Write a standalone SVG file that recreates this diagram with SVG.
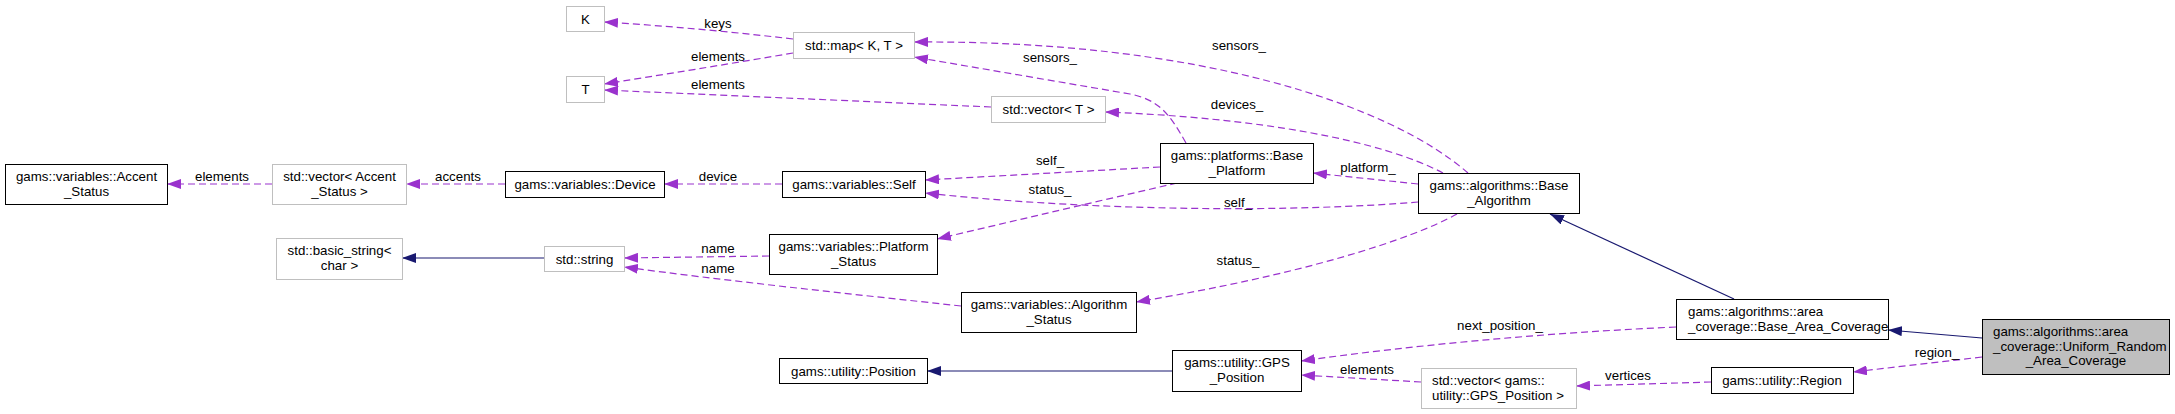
<svg xmlns="http://www.w3.org/2000/svg" width="2175" height="414" viewBox="0 0 2175 414">
<defs>
<style>
text{font-family:"Liberation Sans",Arial,sans-serif;font-size:13.3px;fill:#000}
.n rect{fill:#fff;stroke:#000;stroke-width:1}
.u rect{fill:#fff;stroke:#bfbfbf;stroke-width:1}
.g rect{fill:#bfbfbf;stroke:#000;stroke-width:1}
.c{text-anchor:middle}
.e{fill:none;stroke:#9a32cd;stroke-width:1.2;stroke-dasharray:7,4;marker-end:url(#ap)}
.i{fill:none;stroke:#191970;stroke-width:1.2;marker-end:url(#ab)}
.l{text-anchor:middle}
</style>
<marker id="ap" viewBox="0 0 14 10" refX="14" refY="5" markerWidth="14" markerHeight="10" markerUnits="userSpaceOnUse" orient="auto">
<path d="M0,0 L14,5 L0,10 z" fill="#9a32cd"/>
</marker>
<marker id="ab" viewBox="0 0 14 10" refX="14" refY="5" markerWidth="14" markerHeight="10" markerUnits="userSpaceOnUse" orient="auto">
<path d="M0,0 L14,5 L0,10 z" fill="#191970"/>
</marker>
</defs>
<rect width="2175" height="414" fill="#fff"/>
<g id="edges">
<path class="e" d="M793,39 Q700,28 604,22"/>
<path class="e" d="M793,53 C740,62 680,72 604,84"/>
<path class="e" d="M991,107 L604,90"/>
<path class="e" d="M1468,173 C1390,105 1200,40 914,42"/>
<path class="e" d="M1186,143 C1170,115 1160,100 1130,94 L914,57"/>
<path class="e" d="M1443,173 C1380,140 1260,118 1105,112"/>
<path class="e" d="M1418,184 L1313,173"/>
<path class="e" d="M1160,167 L925,180"/>
<path class="e" d="M1418,202 C1300,212 1100,212 925,193"/>
<path class="e" d="M1177,183 Q1060,210 937,239"/>
<path class="e" d="M1457,214 C1410,240 1300,275 1136,302"/>
<path class="e" d="M782,184 L664,184"/>
<path class="e" d="M505,184 L406,184"/>
<path class="e" d="M272,184 L167,184"/>
<path class="e" d="M769,256 L624,258"/>
<path class="e" d="M961,306 C850,294 720,280 624,267"/>
<path class="i" d="M544,258 L402,258"/>
<path class="i" d="M1172,371 L927,371"/>
<path class="e" d="M1676,327 Q1480,336 1301,361"/>
<path class="e" d="M1421,382 L1301,375"/>
<path class="e" d="M1711,382 L1576,386"/>
<path class="e" d="M1982,357 L1853,372"/>
<path class="i" d="M1982,338 L1888,330"/>
<path class="i" d="M1734,299 L1550,214"/>
<text class="l" x="718" y="27.5">keys</text>
<text class="l" x="718" y="60.5">elements</text>
<text class="l" x="718" y="88.5">elements</text>
<text class="l" x="1239" y="49.5">sensors_</text>
<text class="l" x="1050" y="61.5">sensors_</text>
<text class="l" x="1237" y="108.5">devices_</text>
<text class="l" x="1368" y="171.5">platform_</text>
<text class="l" x="1050" y="164.5">self_</text>
<text class="l" x="1050" y="193.5">status_</text>
<text class="l" x="1238" y="206.5">self_</text>
<text class="l" x="1238" y="264.5">status_</text>
<text class="l" x="718" y="180.5">device</text>
<text class="l" x="458" y="180.5">accents</text>
<text class="l" x="222" y="180.5">elements</text>
<text class="l" x="718" y="252.5">name</text>
<text class="l" x="718" y="272.5">name</text>
<text class="l" x="1500" y="329.5">next_position_</text>
<text class="l" x="1367" y="373.5">elements</text>
<text class="l" x="1628" y="379.5">vertices</text>
<text class="l" x="1937" y="356.5">region_</text>
</g>
<g id="node-K" class="u"><rect x="566.5" y="6.5" width="38" height="25"/><text class="c" x="585.5" y="24">K</text></g>
<g id="node-T" class="u"><rect x="566.5" y="76.5" width="38" height="26"/><text class="c" x="585.5" y="94">T</text></g>
<g id="node-map" class="u"><rect x="793.5" y="32.5" width="121" height="26"/><text class="c" x="854" y="50">std::map&lt; K, T &gt;</text></g>
<g id="node-vectorT" class="u"><rect x="991.5" y="96.5" width="114" height="26"/><text class="c" x="1048.5" y="114">std::vector&lt; T &gt;</text></g>
<g id="node-accent" class="n"><rect x="5.5" y="164.5" width="162" height="40"/><text class="c" x="86.5" y="181">gams::variables::Accent</text><text class="c" x="86.5" y="196">_Status</text></g>
<g id="node-vecaccent" class="u"><rect x="272.5" y="164.5" width="134" height="40"/><text class="c" x="339.5" y="181">std::vector&lt; Accent</text><text class="c" x="339.5" y="196">_Status &gt;</text></g>
<g id="node-device" class="n"><rect x="505.5" y="171.5" width="159" height="26"/><text class="c" x="585" y="189">gams::variables::Device</text></g>
<g id="node-self" class="n"><rect x="782.5" y="171.5" width="143" height="26"/><text class="c" x="854" y="189">gams::variables::Self</text></g>
<g id="node-baseplatform" class="n"><rect x="1160.5" y="143.5" width="153" height="40"/><text class="c" x="1237" y="160">gams::platforms::Base</text><text class="c" x="1237" y="175">_Platform</text></g>
<g id="node-basealgorithm" class="n"><rect x="1418.5" y="173.5" width="161" height="40"/><text class="c" x="1499" y="190">gams::algorithms::Base</text><text class="c" x="1499" y="205">_Algorithm</text></g>
<g id="node-basicstring" class="u"><rect x="276.5" y="238.5" width="126" height="41"/><text class="c" x="339.5" y="255">std::basic_string&lt;</text><text class="c" x="339.5" y="270">char &gt;</text></g>
<g id="node-string" class="u"><rect x="544.5" y="246.5" width="80" height="25"/><text class="c" x="584.5" y="263.5">std::string</text></g>
<g id="node-platformstatus" class="n"><rect x="769.5" y="234.5" width="168" height="40"/><text class="c" x="853.5" y="251">gams::variables::Platform</text><text class="c" x="853.5" y="266">_Status</text></g>
<g id="node-algorithmstatus" class="n"><rect x="961.5" y="292.5" width="175" height="40"/><text class="c" x="1049" y="309">gams::variables::Algorithm</text><text class="c" x="1049" y="324">_Status</text></g>
<g id="node-position" class="n"><rect x="779.5" y="358.5" width="148" height="25"/><text class="c" x="853.5" y="375.5">gams::utility::Position</text></g>
<g id="node-gps" class="n"><rect x="1172.5" y="350.5" width="129" height="41"/><text class="c" x="1237" y="367">gams::utility::GPS</text><text class="c" x="1237" y="382">_Position</text></g>
<g id="node-vecgps" class="u"><rect x="1421.5" y="368.5" width="155" height="40"/><text x="1432" y="385">std::vector&lt; gams::</text><text x="1432" y="400">utility::GPS_Position &gt;</text></g>
<g id="node-bac" class="n"><rect x="1676.5" y="299.5" width="212" height="40"/><text x="1688" y="316">gams::algorithms::area</text><text x="1688" y="331">_coverage::Base_Area_Coverage</text></g>
<g id="node-region" class="n"><rect x="1711.5" y="367.5" width="142" height="26"/><text class="c" x="1782" y="385">gams::utility::Region</text></g>
<g id="node-uniform" class="g"><rect x="1982.5" y="319.5" width="187" height="55"/><text x="1993" y="336">gams::algorithms::area</text><text x="1993" y="350.5">_coverage::Uniform_Random</text><text class="c" x="2076" y="365">_Area_Coverage</text></g>
</svg>
